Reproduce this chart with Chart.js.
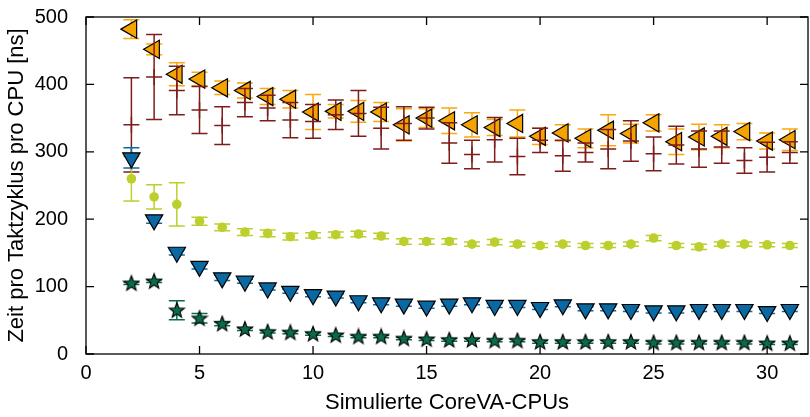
<!DOCTYPE html>
<html>
<head>
  <meta charset="UTF-8">
  <title>Zeit pro Taktzyklus pro CPU</title>
  <style>
    body {
      margin: 0;
      background-color: #fff;
      overflow: hidden;
    }
    .grafica-container {
      width: 810px;
      height: 417px;
    }
  </style>
</head>
<body>
  <div class="grafica-container">
    <canvas id="grafica" width="810" height="417"></canvas>
  </div>

  <script src="https://cdn.jsdelivr.net/npm/chart.js"></script>
  <script>
    // Simulierte CPUs (x-Achse)
    var cpus = [2, 3, 4, 5, 6, 7, 8, 9, 10, 11, 12, 13, 14, 15, 16, 17, 18, 19, 20, 21, 22, 23, 24, 25, 26, 27, 28, 29, 30, 31];

    // Orange (Dreieck links)
    var orangeMean = [482, 452, 415, 408, 395, 391, 382, 378, 359, 360, 360, 359, 340, 350, 346, 340, 336, 342, 323, 328, 320, 332, 327, 343, 315, 322, 323, 330, 316, 318];
    var orangeErr  = [14, 8, 17, 10, 10, 11, 12, 13, 26, 10, 16, 14, 24, 14, 19, 18, 12, 20, 12, 12, 14, 23, 14, 12, 19, 19, 17, 12, 12, 16];

    // Dunkelrot (Plus)
    var redMean = [340, 411, 391, 362, 339, 373, 365, 347, 345, 355, 357, 335, 342, 350, 313, 296, 318, 293, 317, 294, 299, 304, 316, 297, 310, 304, 307, 287, 292, 299];
    var redErr  = [70, 63, 36, 35, 28, 21, 19, 26, 25, 22, 34, 31, 25, 16, 30, 21, 33, 27, 18, 23, 14, 29, 30, 25, 28, 27, 24, 19, 22, 16];

    // Gelbgruen (Punkt)
    var limeMean = [260, 233, 222, 197, 188, 181, 179, 174, 176, 177, 178, 175, 167, 167, 167, 163, 166, 163, 161, 163, 161, 161, 163, 172, 161, 159, 163, 163, 162, 161];
    var limeErr  = [33, 18, 32, 6, 5, 5, 5, 5, 4, 4, 4, 4, 4, 4, 4, 3, 4, 3, 3, 3, 3, 3, 3, 4, 3, 4, 3, 3, 3, 3];

    // Blau (Dreieck unten)
    var blueMean = [291, 199, 151, 130, 113, 108, 98, 93, 88, 86, 79, 76, 74, 71, 74, 76, 72, 72, 69, 73, 67, 67, 66, 64, 64, 66, 66, 66, 63, 66];
    var blueErr  = [15, 5, 4, 4, 4, 3, 3, 3, 3, 3, 3, 3, 3, 3, 3, 3, 3, 3, 3, 3, 3, 3, 3, 3, 3, 3, 3, 3, 3, 3];

    // Gruen (Stern)
    var greenMean = [105, 108, 65, 53, 45, 37, 33, 32, 30, 28, 26, 26, 23, 22, 21, 21, 20, 20, 18, 18, 18, 18, 18, 17, 17, 17, 17, 17, 16, 16];
    var greenErr  = [2, 2, 14, 7, 3, 2, 2, 2, 2, 2, 2, 2, 2, 2, 2, 2, 2, 2, 2, 2, 2, 2, 2, 2, 2, 2, 2, 2, 2, 2];

    var yTicks = [0, 100, 200, 300, 400, 500];
    var xTicks = [0, 5, 10, 15, 20, 25, 30];

    function punkte(mean) {
      return cpus.map(function (c, i) { return { x: c, y: mean[i] }; });
    }

    // gefuellter Stern als Marker
    function sternBild() {
      var c = document.createElement('canvas');
      c.width = 18; c.height = 18;
      var g = c.getContext('2d');
      g.beginPath();
      for (var k = 0; k < 10; k++) {
        var r = (k % 2 === 0) ? 8 : 3.4;
        var a = -Math.PI / 2 + k * Math.PI / 5;
        var px = 9 + r * Math.cos(a), py = 9.5 + r * Math.sin(a);
        if (k === 0) g.moveTo(px, py); else g.lineTo(px, py);
      }
      g.closePath();
      g.fillStyle = '#0b6b4c';
      g.fill();
      g.lineWidth = 1.1;
      g.strokeStyle = '#000';
      g.stroke();
      return c;
    }

    // Fehlerbalken vor jedem Datensatz zeichnen
    var fehlerbalken = {
      id: 'fehlerbalken',
      beforeDatasetDraw: function (chart, args) {
        var ds = chart.data.datasets[args.index];
        if (!ds.err) return;
        var ctx = chart.ctx, xs = chart.scales.x, ys = chart.scales.y, area = chart.chartArea;
        ctx.save();
        ctx.beginPath();
        ctx.rect(area.left, area.top, area.right - area.left, area.bottom - area.top);
        ctx.clip();
        ctx.strokeStyle = ds.errColor;
        ctx.lineWidth = 1.5;
        ds.data.forEach(function (p, i) {
          var px = xs.getPixelForValue(p.x);
          var hi = ys.getPixelForValue(p.y + ds.err[i]);
          var lo = ys.getPixelForValue(p.y - ds.err[i]);
          ctx.beginPath();
          ctx.moveTo(px, hi); ctx.lineTo(px, lo);
          ctx.moveTo(px - 8, hi); ctx.lineTo(px + 8, hi);
          ctx.moveTo(px - 8, lo); ctx.lineTo(px + 8, lo);
          ctx.stroke();
        });
        ctx.restore();
      }
    };

    // Rahmen mit nach innen zeigenden Ticks
    var rahmen = {
      id: 'rahmen',
      afterDatasetsDraw: function (chart) {
        var ctx = chart.ctx, xs = chart.scales.x, ys = chart.scales.y, a = chart.chartArea;
        ctx.save();
        ctx.strokeStyle = '#000';
        ctx.lineWidth = 1.3;
        ctx.strokeRect(a.left, a.top, a.right - a.left, a.bottom - a.top);
        ctx.beginPath();
        xTicks.forEach(function (v) {
          var px = xs.getPixelForValue(v);
          ctx.moveTo(px, a.bottom); ctx.lineTo(px, a.bottom - 8);
          ctx.moveTo(px, a.top); ctx.lineTo(px, a.top + 8);
        });
        yTicks.forEach(function (v) {
          var py = ys.getPixelForValue(v);
          ctx.moveTo(a.left, py); ctx.lineTo(a.left + 8, py);
          ctx.moveTo(a.right, py); ctx.lineTo(a.right - 8, py);
        });
        ctx.stroke();
        ctx.restore();
      }
    };

    var schrift = { family: 'Liberation Sans, Arial, sans-serif', size: 20 };
    var titelSchrift = { family: 'Liberation Sans, Arial, sans-serif', size: 22 };

    var ctx = document.getElementById('grafica').getContext('2d');
    var myChart = new Chart(ctx, {
      type: 'scatter',
      data: {
        datasets: [
          {
            label: 'Stern',
            data: punkte(greenMean),
            err: greenErr,
            errColor: '#0b6b4c',
            pointStyle: sternBild(),
            pointRadius: 8
          },
          {
            label: 'Blau',
            data: punkte(blueMean),
            err: blueErr,
            errColor: '#0a68a3',
            pointStyle: 'triangle',
            rotation: 180,
            pointRadius: 10,
            backgroundColor: '#0a68a3',
            borderColor: '#000',
            borderWidth: 1.2
          },
          {
            label: 'Gelbgruen',
            data: punkte(limeMean),
            err: limeErr,
            errColor: '#bccf2c',
            pointStyle: 'circle',
            pointRadius: 4.8,
            backgroundColor: '#bccf2c',
            borderColor: '#bccf2c',
            borderWidth: 0
          },
          {
            label: 'Dunkelrot',
            data: punkte(redMean),
            err: redErr,
            errColor: '#7e1c1c',
            pointStyle: 'cross',
            pointRadius: 8,
            borderColor: '#7e1c1c',
            borderWidth: 1.5
          },
          {
            label: 'Orange',
            data: punkte(orangeMean),
            err: orangeErr,
            errColor: '#fca80c',
            pointStyle: 'triangle',
            rotation: -90,
            pointRadius: 10.5,
            backgroundColor: '#f5a300',
            borderColor: '#000',
            borderWidth: 1.2
          }
        ]
      },
      options: {
        responsive: false,
        animation: false,
        layout: { autoPadding: false, padding: { top: 17, right: 2, left: 0, bottom: 0 } },
        plugins: {
          legend: { display: false },
          tooltip: { enabled: false }
        },
        scales: {
          x: {
            type: 'linear',
            min: 0,
            max: 31.8,
            afterBuildTicks: function (scale) {
              scale.ticks = xTicks.map(function (v) { return { value: v }; });
            },
            afterFit: function (scale) {
              scale.height = 63;
              scale.paddingLeft = 0;
              scale.paddingRight = 0;
            },
            grid: { display: false },
            border: { display: false },
            ticks: { color: '#000', font: schrift, padding: -1, maxRotation: 0 },
            title: {
              display: true,
              text: 'Simulierte CoreVA-CPUs',
              color: '#000',
              font: titelSchrift,
              padding: { top: 0, bottom: 1 }
            }
          },
          y: {
            min: 0,
            max: 500,
            afterBuildTicks: function (scale) {
              scale.ticks = yTicks.map(function (v) { return { value: v }; });
            },
            afterFit: function (scale) {
              scale.width = 86;
              scale.paddingTop = 0;
              scale.paddingBottom = 0;
            },
            grid: { display: false },
            border: { display: false },
            ticks: { color: '#000', font: schrift, padding: 10 },
            title: {
              display: true,
              text: 'Zeit pro Taktzyklus pro CPU [ns]',
              color: '#000',
              font: titelSchrift,
              padding: { top: 4, bottom: 0 }
            }
          }
        }
      },
      plugins: [fehlerbalken, rahmen]
    });
  </script>
</body>
</html>
